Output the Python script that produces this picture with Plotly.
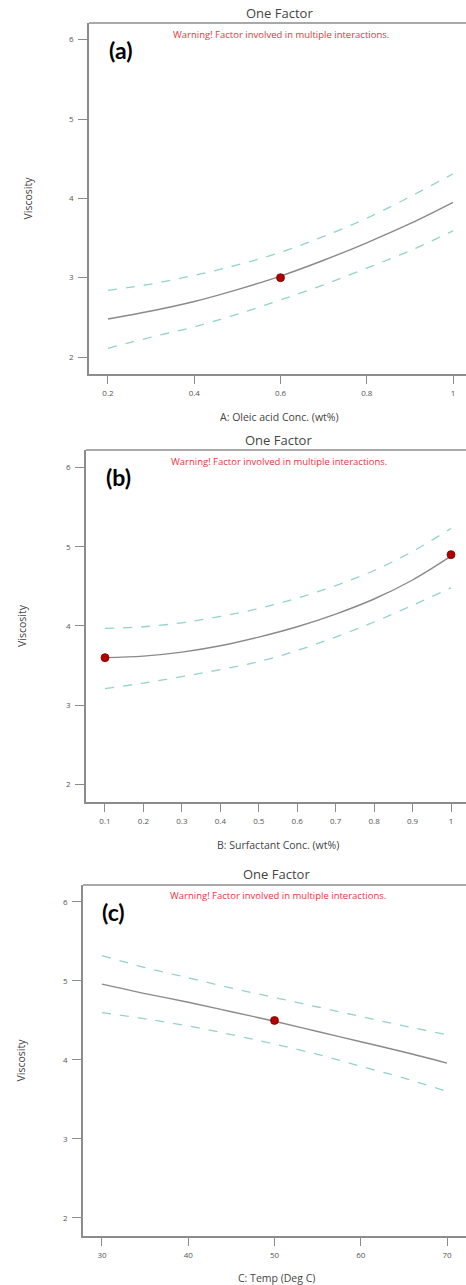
import plotly.graph_objects as go

W, H = 466, 1285

# ---------------- data ----------------
# Panel (a): A: Oleic acid Conc. (wt%)
a_x = [0.2, 0.3, 0.4, 0.5, 0.6, 0.7, 0.8, 0.9, 1.0]
a_fit = [2.48, 2.58, 2.70, 2.85, 3.02, 3.22, 3.44, 3.68, 3.95]
a_upper = [2.84, 2.92, 3.03, 3.16, 3.32, 3.52, 3.75, 4.02, 4.31]
a_lower = [2.11, 2.25, 2.38, 2.54, 2.72, 2.91, 3.12, 3.34, 3.59]
a_pts_x = [0.6]
a_pts_y = [3.0]
a_ticks = [0.2, 0.4, 0.6, 0.8, 1]
a_ticklabels = ["0.2", "0.4", "0.6", "0.8", "1"]

# Panel (b): B: Surfactant Conc. (wt%)
b_x = [0.1, 0.2, 0.3, 0.4, 0.5, 0.6, 0.7, 0.8, 0.9, 1.0]
b_fit = [3.60, 3.62, 3.67, 3.75, 3.86, 3.99, 4.15, 4.34, 4.58, 4.88]
b_upper = [3.97, 3.99, 4.04, 4.12, 4.22, 4.35, 4.51, 4.70, 4.94, 5.23]
b_lower = [3.21, 3.28, 3.36, 3.45, 3.55, 3.69, 3.86, 4.05, 4.26, 4.48]
b_pts_x = [0.1, 1.0]
b_pts_y = [3.6, 4.9]
b_ticks = [0.1, 0.2, 0.3, 0.4, 0.5, 0.6, 0.7, 0.8, 0.9, 1]
b_ticklabels = ["0.1", "0.2", "0.3", "0.4", "0.5", "0.6", "0.7", "0.8", "0.9", "1"]

# Panel (c): C: Temp (Deg C)
c_x = [30, 35, 40, 45, 50, 55, 60, 65, 70]
c_fit = [4.96, 4.84, 4.73, 4.61, 4.49, 4.36, 4.23, 4.10, 3.96]
c_upper = [5.32, 5.17, 5.04, 4.91, 4.79, 4.67, 4.55, 4.43, 4.32]
c_lower = [4.60, 4.52, 4.43, 4.32, 4.20, 4.07, 3.92, 3.77, 3.60]
c_pts_x = [50]
c_pts_y = [4.5]
c_ticks = [30, 40, 50, 60, 70]
c_ticklabels = ["30", "40", "50", "60", "70"]

y_ticks = [2, 3, 4, 5, 6]
y_ticklabels = ["2", "3", "4", "5", "6"]

# ---------------- styling / layout ----------------
GRID = "#8c8c8c"
FIT_COLOR = "#8a8a8a"
CI_COLOR = "#93d3cb"
PT_COLOR = "#b00000"
TXT = "#555555"
FONT = "Open Sans"


def px(x):
    return x / W


def py(y):
    return 1 - y / H


panels = [
    dict(tag="(a)", x=a_x, fit=a_fit, up=a_upper, lo=a_lower, px_=a_pts_x, py_=a_pts_y,
         ticks=a_ticks, labels=a_ticklabels, xrange=[0.156, 1.030], yrange=[1.786, 6.21],
         left=89, top=23, bottom=374, title_y=13, warn_y=34, tag_x=107, tag_y=50,
         xtitle="A: Oleic acid Conc. (wt%)", xtitle_y=417, ytitle_x=27),
    dict(tag="(b)", x=b_x, fit=b_fit, up=b_upper, lo=b_lower, px_=b_pts_x, py_=b_pts_y,
         ticks=b_ticks, labels=b_ticklabels, xrange=[0.0506, 1.039], yrange=[1.779, 6.22],
         left=86, top=450, bottom=802, title_y=440, warn_y=461, tag_x=104, tag_y=477,
         xtitle="B: Surfactant Conc. (wt%)", xtitle_y=845, ytitle_x=22),
    dict(tag="(c)", x=c_x, fit=c_fit, up=c_upper, lo=c_lower, px_=c_pts_x, py_=c_pts_y,
         ticks=c_ticks, labels=c_ticklabels, xrange=[27.8, 72.2], yrange=[1.77, 6.215],
         left=83, top=885, bottom=1236, title_y=874, warn_y=895, tag_x=100, tag_y=912,
         xtitle="C: Temp (Deg C)", xtitle_y=1278, ytitle_x=20),
]

fig = go.Figure()
annotations = []
shapes = []
layout_axes = {}

for i, p in enumerate(panels, start=1):
    xa = "x" if i == 1 else f"x{i}"
    ya = "y" if i == 1 else f"y{i}"
    for vals in (p["up"], p["lo"]):
        fig.add_trace(go.Scatter(x=p["x"], y=vals, mode="lines", xaxis=xa, yaxis=ya,
                                 line=dict(color=CI_COLOR, width=1.3, dash="dash", shape="spline"),
                                 showlegend=False, hoverinfo="skip"))
    fig.add_trace(go.Scatter(x=p["x"], y=p["fit"], mode="lines", xaxis=xa, yaxis=ya,
                             line=dict(color=FIT_COLOR, width=1.4, shape="spline"),
                             showlegend=False))
    fig.add_trace(go.Scatter(x=p["px_"], y=p["py_"], mode="markers", xaxis=xa, yaxis=ya,
                             marker=dict(color=PT_COLOR, size=8, line=dict(color="#800000", width=0.8)),
                             showlegend=False, cliponaxis=False))

    xkey = "xaxis" if i == 1 else f"xaxis{i}"
    ykey = "yaxis" if i == 1 else f"yaxis{i}"
    layout_axes[xkey] = dict(
        domain=[px(p["left"]), 1], anchor=ya, range=p["xrange"],
        tickmode="array", tickvals=p["ticks"], ticktext=p["labels"],
        showgrid=False, zeroline=False, showline=True, linecolor=GRID, linewidth=1.5,
        ticks="outside", ticklen=8, tickwidth=1, tickcolor=GRID, ticklabelstandoff=3,
        tickfont=dict(family=FONT, size=8, color=TXT),
    )
    layout_axes[ykey] = dict(
        domain=[py(p["bottom"]), py(p["top"])], anchor=xa, range=p["yrange"],
        tickmode="array", tickvals=y_ticks, ticktext=y_ticklabels,
        showgrid=False, zeroline=False, showline=True, linecolor=GRID, linewidth=1.5,
        ticks="outside", ticklen=9, tickwidth=1, tickcolor=GRID, ticklabelstandoff=3,
        tickfont=dict(family=FONT, size=8, color=TXT),
    )
    # top border of the frame
    shapes.append(dict(type="line", xref="paper", yref="paper",
                       x0=px(p["left"]), x1=1, y0=py(p["top"]), y1=py(p["top"]),
                       line=dict(color=GRID, width=1.5)))

    cx = (p["left"] + W) / 2
    annotations += [
        dict(text="One Factor", x=px(cx + 2), y=py(p["title_y"]), xref="paper", yref="paper",
             showarrow=False, xanchor="center", yanchor="middle",
             font=dict(family=FONT, size=13, color="#444444")),
        dict(text="Warning! Factor involved in multiple interactions.", x=px(cx + 3),
             y=py(p["warn_y"]), xref="paper", yref="paper", showarrow=False,
             xanchor="center", yanchor="middle",
             font=dict(family=FONT, size=9.5, color="#ec3340")),
        dict(text="<b>" + p["tag"] + "</b>", x=px(p["tag_x"]), y=py(p["tag_y"]),
             xref="paper", yref="paper", showarrow=False, xanchor="left", yanchor="middle",
             font=dict(family="Lato", size=23, color="#000000")),
        dict(text=p["xtitle"], x=px(cx + 2), y=py(p["xtitle_y"]), xref="paper", yref="paper",
             showarrow=False, xanchor="center", yanchor="middle",
             font=dict(family=FONT, size=10.5, color="#444444")),
        dict(text="Viscosity", x=px(p["ytitle_x"]), y=py((p["top"] + p["bottom"]) / 2),
             xref="paper", yref="paper", showarrow=False, textangle=-90,
             xanchor="center", yanchor="middle",
             font=dict(family=FONT, size=10.5, color="#444444")),
    ]

fig.update_layout(
    width=W, height=H, margin=dict(l=0, r=0, t=0, b=0),
    paper_bgcolor="white", plot_bgcolor="white",
    showlegend=False, annotations=annotations, shapes=shapes, **layout_axes,
)

fig.write_html("out.html")
